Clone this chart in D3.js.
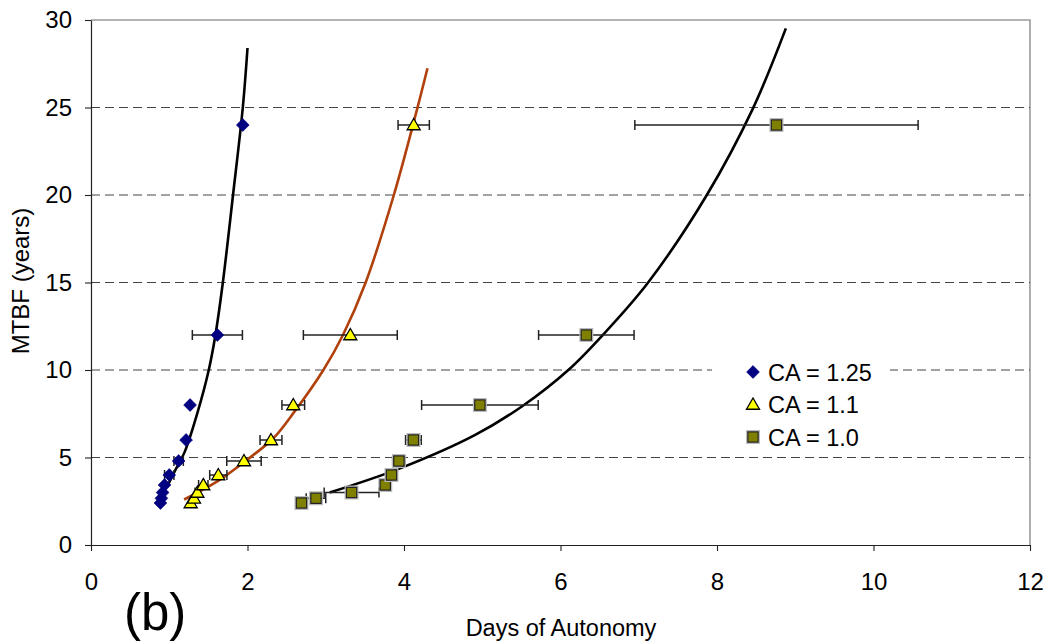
<!DOCTYPE html>
<html>
<head>
<meta charset="utf-8">
<script src="https://cdn.jsdelivr.net/npm/d3@7/dist/d3.min.js"></script>
<style>
  html, body { margin: 0; padding: 0; background: #fff; }
  svg { display: block; font-family: "Liberation Sans", Arial, sans-serif; }
</style>
</head>
<body>
<svg id="chart" width="1048" height="644"></svg>
<script>
// MTBF levels shared by every series (years)
const mtbf = [2.4, 2.67, 3.0, 3.43, 4.0, 4.8, 6.0, 8.0, 12.0, 24.0];

// Days of autonomy per capacity ratio, with half-width of the horizontal error bar
const daysCA125 = [0.887, 0.90, 0.915, 0.94, 1.0, 1.12, 1.215, 1.266, 1.615, 1.94];
const errCA125  = [0, 0, 0, 0, 0.06, 0.06, 0, 0, 0.32, 0];

const daysCA110 = [1.274, 1.316, 1.36, 1.435, 1.627, 1.955, 2.30, 2.585, 3.314, 4.124];
const errCA110  = [0, 0, 0.03, 0.06, 0.11, 0.22, 0.14, 0.145, 0.6, 0.2];

const daysCA100 = [2.69, 2.875, 3.33, 3.76, 3.84, 3.935, 4.12, 4.97, 6.33, 8.76];
const errCA100  = [0.04, 0.125, 0.35, 0, 0, 0.08, 0.1, 0.745, 0.61, 1.81];

// Fitted trend curves (days, years)
const trendCA125X = [0.98, 1.08, 1.20, 1.36, 1.505, 1.59, 1.685, 1.815, 1.94, 2.0];
const trendCA125Y = [3.4, 4.3, 5.35, 7.55, 10.0, 12.0, 15.0, 20.0, 25.0, 28.4];

const trendCA110X = [1.19, 1.64, 1.98, 2.33, 2.60, 2.97, 3.22, 3.51, 3.87, 4.17, 4.30];
const trendCA110Y = [2.6, 3.71, 4.82, 6.1, 7.62, 10.0, 12.0, 15.0, 20.0, 24.95, 27.24];

const trendCA100X = [3.05, 3.95, 4.91, 5.52, 6.10, 6.54, 7.12, 7.87, 8.46, 8.88];
const trendCA100Y = [3.0, 4.38, 6.29, 7.96, 10.0, 12.0, 15.0, 20.0, 24.95, 29.52];

// Axis ticks and labels
const xTicks = [0, 2, 4, 6, 8, 10, 12];
const yTicks = [0, 5, 10, 15, 20, 25, 30];
const gridLevels = [5, 10, 15, 20, 25];
const legendLabels = ["CA = 1.25", "CA = 1.1", "CA = 1.0"];

const svg = d3.select("#chart");
const plotLeft = 91, plotRight = 1030, plotTop = 20, plotBottom = 545;

const x = d3.scaleLinear().domain([0, 12]).range([plotLeft, plotRight]);
const y = d3.scaleLinear().domain([0, 30]).range([plotBottom, plotTop]);

// plot frame (top and right edges)
svg.append("path")
  .attr("d", `M${plotLeft},${plotTop}H${plotRight}V${plotBottom}`)
  .attr("fill", "none").attr("stroke", "#9a9a9a").attr("stroke-width", 1.6);

// dashed horizontal gridlines
svg.append("g").selectAll("line").data(gridLevels).join("line")
  .attr("x1", plotLeft).attr("x2", plotRight)
  .attr("y1", d => y(d)).attr("y2", d => y(d))
  .attr("stroke", "#444").attr("stroke-width", 1)
  .attr("stroke-dasharray", "9,5");

// axes
const fontSize = 24;
const gx = svg.append("g").attr("transform", `translate(0,${plotBottom})`)
  .call(d3.axisBottom(x).tickValues(xTicks).tickSize(6).tickPadding(22).tickSizeOuter(0));
const gy = svg.append("g").attr("transform", `translate(${plotLeft},0)`)
  .call(d3.axisLeft(y).tickValues(yTicks).tickSize(6).tickPadding(13).tickSizeOuter(0));
[gx, gy].forEach(g => {
  g.select(".domain").attr("stroke", "#222").attr("stroke-width", 1.2);
  g.selectAll(".tick line").attr("stroke", "#222").attr("stroke-width", 1.1);
  g.selectAll(".tick text").attr("font-size", fontSize).attr("fill", "#000")
    .attr("font-family", "'Liberation Sans', Arial, sans-serif");
});

// axis titles
svg.append("text")
  .attr("transform", "translate(29,281) rotate(-90)")
  .attr("text-anchor", "middle").attr("font-size", 24).text("MTBF (years)");
svg.append("text")
  .attr("x", 561).attr("y", 636)
  .attr("text-anchor", "middle").attr("font-size", 23.5).text("Days of Autonomy");
svg.append("text")
  .attr("x", 124).attr("y", 630)
  .attr("font-size", 51).text("(b)");

// trend curves
const trendLine = d3.line().x(d => x(d[0])).y(d => y(d[1])).curve(d3.curveCatmullRom.alpha(0.5));
const trends = [
  { xs: trendCA125X, ys: trendCA125Y, color: "#000" },
  { xs: trendCA110X, ys: trendCA110Y, color: "#b0400c" },
  { xs: trendCA100X, ys: trendCA100Y, color: "#000" }
];
trends.forEach(t => {
  svg.append("path")
    .datum(t.xs.map((v, i) => [v, t.ys[i]]))
    .attr("d", trendLine)
    .attr("fill", "none").attr("stroke", t.color).attr("stroke-width", 2.6);
});

// series definitions
const series = [
  { days: daysCA125, err: errCA125, shape: "diamond" },
  { days: daysCA110, err: errCA110, shape: "triangle" },
  { days: daysCA100, err: errCA100, shape: "square" }
];

// horizontal error bars
series.forEach(s => {
  const g = svg.append("g").attr("stroke", "#222").attr("stroke-width", 1.5).attr("fill", "none");
  s.days.forEach((d, i) => {
    const e = s.err[i];
    if (!e) return;
    const yy = y(mtbf[i]), x0 = x(d - e), x1 = x(d + e);
    g.append("line").attr("x1", x0).attr("x2", x1).attr("y1", yy).attr("y2", yy);
    g.append("line").attr("x1", x0).attr("x2", x0).attr("y1", yy - 5).attr("y2", yy + 5);
    g.append("line").attr("x1", x1).attr("x2", x1).attr("y1", yy - 5).attr("y2", yy + 5);
  });
});

// marker drawing
function drawMarker(g, shape, cx, cy) {
  if (shape === "diamond") {
    g.append("path")
      .attr("d", d3.symbol(d3.symbolSquare, 82)())
      .attr("transform", `translate(${cx},${cy}) rotate(45)`)
      .attr("fill", "#000080").attr("stroke", "#000080").attr("stroke-width", 0.6);
  } else if (shape === "triangle") {
    g.append("path")
      .attr("d", d3.symbol(d3.symbolTriangle, 74)())
      .attr("transform", `translate(${cx},${cy + 1})`)
      .attr("fill", "#ffff00").attr("stroke", "#000").attr("stroke-width", 1.3);
  } else {
    g.append("path")
      .attr("d", d3.symbol(d3.symbolSquare, 156)())
      .attr("transform", `translate(${cx},${cy})`)
      .attr("fill", "none").attr("stroke", "#bbb").attr("stroke-width", 1.5);
    g.append("path")
      .attr("d", d3.symbol(d3.symbolSquare, 106)())
      .attr("transform", `translate(${cx},${cy})`)
      .attr("fill", "#808000").attr("stroke", "#222").attr("stroke-width", 1.2);
  }
}

series.forEach(s => {
  const g = svg.append("g");
  s.days.forEach((d, i) => drawMarker(g, s.shape, x(d), y(mtbf[i])));
});

// legend
const legend = svg.append("g");
legend.append("rect")
  .attr("x", 712).attr("y", 352).attr("width", 178).attr("height", 100)
  .attr("fill", "#fff");
const legendY = [372, 404.5, 437];
legendLabels.forEach((label, i) => {
  drawMarker(legend, series[i].shape, 753, legendY[i]);
  legend.append("text")
    .attr("x", 768).attr("y", legendY[i] + 8.5)
    .attr("font-size", 23.5).text(label);
});
</script>
</body>
</html>
